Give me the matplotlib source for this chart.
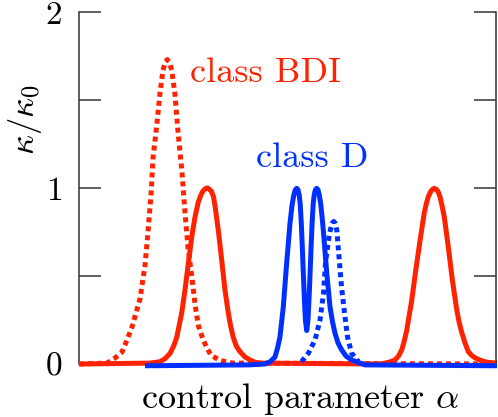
import matplotlib

matplotlib.use("Agg")
import matplotlib.pyplot as plt

plt.rcParams["font.family"] = "serif"
plt.rcParams["font.serif"] = ["cmr10", "DejaVu Serif"]
plt.rcParams["mathtext.fontset"] = "cm"
plt.rcParams["axes.formatter.use_mathtext"] = True

RED = "#ff2200"
BLUE = "#0030ff"
AXC = "#333333"

# control parameter (arbitrary units) and kappa/kappa0
bdi_dot_x = [0, 28, 36, 43, 48, 53, 58, 61, 66, 69, 72, 74, 78, 81, 84, 86.3, 88.3,
             90.3, 92.7, 96, 99, 103, 106, 109, 113, 116, 119.3, 124, 128, 132,
             141, 154, 418]
bdi_dot_y = [0, 0.005, 0.034, 0.068, 0.136, 0.21, 0.31, 0.37, 0.56, 0.75, 0.96,
             1.17, 1.37, 1.54, 1.67, 1.715, 1.73, 1.715, 1.67, 1.53, 1.32, 1.09,
             0.86, 0.66, 0.49, 0.34, 0.22, 0.14, 0.09, 0.05, 0.02, 0.005, 0]

bdi_x = [0, 71, 81, 86, 91, 94.5, 97.7, 102.7, 106, 109.3, 112.7, 116, 119.3,
         121.5, 123.7, 126, 128, 130, 132.5, 134.5, 136, 139.3, 142.7, 146, 149.3,
         151.5, 154.3, 157.5, 161, 166, 171, 176, 181,
         301, 306, 311, 316, 319.5, 322.7, 325, 327.7, 330, 332.7, 336.7, 341,
         345.3, 347.5, 349.3, 351.5, 353.5, 355.3, 357.2, 359.2, 361, 363, 365.3,
         369.3, 373.3, 377.7, 380, 382.7, 386, 389.3, 392.5, 396, 402, 408, 418]
bdi_y = [0, 0.005, 0.013, 0.03, 0.06, 0.1, 0.15, 0.29, 0.42, 0.57, 0.72, 0.835,
         0.92, 0.955, 0.98, 0.995, 1.0, 0.995, 0.98, 0.95, 0.9, 0.76, 0.59, 0.42,
         0.29, 0.22, 0.15, 0.1, 0.07, 0.04, 0.023, 0.01, 0.005,
         0, 0.005, 0.012, 0.023, 0.045, 0.08, 0.125, 0.19, 0.27, 0.36, 0.53, 0.7,
         0.86, 0.915, 0.95, 0.978, 0.993, 0.998, 0.993, 0.978, 0.95, 0.9, 0.835,
         0.665, 0.48, 0.31, 0.24, 0.18, 0.12, 0.07, 0.05, 0.035, 0.02, 0.01, 0.005]

d_x = [66, 170, 186, 191, 196, 198.5, 201, 204.3, 207.7, 211, 213, 214.8, 216.3,
       217.7, 219, 220.2, 221.2, 222.3, 223.3, 224.3, 225.3, 226.4, 227.7, 229,
       230.1, 231.1, 232.1, 233.1, 234.2, 235.2, 236.4, 237.7, 239, 240.3, 241.7,
       243, 244.3, 246, 247.7, 251, 253.5, 256, 259, 262.7, 267, 272.7, 286, 418]
d_y = [-0.01, -0.005, 0.0, 0.012, 0.04, 0.09, 0.155, 0.325, 0.575, 0.8, 0.9, 0.96,
       0.99, 0.998, 0.99, 0.96, 0.91, 0.8, 0.665, 0.52, 0.38, 0.25, 0.19, 0.25,
       0.38, 0.52, 0.665, 0.8, 0.91, 0.96, 0.99, 0.998, 0.99, 0.96, 0.91, 0.84,
       0.76, 0.64, 0.52, 0.325, 0.24, 0.175, 0.12, 0.08, 0.045, 0.023, -0.005,
       -0.01]

d_dot_x = [222.5, 229.5, 236, 241, 244.5, 246.5, 249.5, 251.5, 253.2, 254.7,
           256.2, 257.8, 260, 262.5, 265.5, 268.5, 272.5, 279.5]
d_dot_y = [0.013, 0.0625, 0.136, 0.25, 0.4, 0.574, 0.705, 0.765, 0.8, 0.81, 0.8,
           0.76, 0.61, 0.44, 0.29, 0.155, 0.0625, 0.013]

fig = plt.figure(figsize=(4.98, 4.17), dpi=100)
ax = fig.add_axes([79 / 498, 53 / 417, 417 / 498, 352 / 417])

lw = 3.6
ax.plot(bdi_x, bdi_y, color=RED, lw=lw, clip_on=False, solid_capstyle="butt", zorder=2)
ax.plot(bdi_dot_x, bdi_dot_y, color=RED, lw=lw, ls=(0, (1, 0.8)), clip_on=False, zorder=3)
ax.plot(d_x, d_y, color=BLUE, lw=lw, clip_on=False, solid_capstyle="butt", zorder=4)
ax.plot(d_dot_x, d_dot_y, color=BLUE, lw=lw, ls=(0, (1, 0.8)), clip_on=False, zorder=5)

ax.set_xlim(0, 417)
ax.set_ylim(0, 2)
ax.set_xticks([])
ax.set_yticks([0, 1, 2])
ax.set_yticklabels(["0", "1", "2"])
ax.set_yticks([0.5, 1.5], minor=True)
ax.tick_params(axis="y", which="both", direction="in", length=16, width=1.1,
               color=AXC, left=True, right=True, labelsize=24, pad=12)
for side in ("top", "bottom"):
    ax.spines[side].set_visible(False)
for side in ("left", "right"):
    ax.spines[side].set_color(AXC)
    ax.spines[side].set_linewidth(1.1)

ax.text(111, 1.60, "class BDI", color=RED, fontsize=26, ha="left", va="baseline")
ax.text(177, 1.12, "class D", color=BLUE, fontsize=26, ha="left", va="baseline")

fig.text(300 / 498, 1 - 399 / 417, r"control parameter $\alpha$", fontsize=26,
         ha="center", va="center")
fig.text(25 / 498, 1 - 120 / 417, r"$\kappa/\kappa_0$", fontsize=25, rotation=90,
         ha="center", va="center")

fig.savefig("out.png", dpi=100)
